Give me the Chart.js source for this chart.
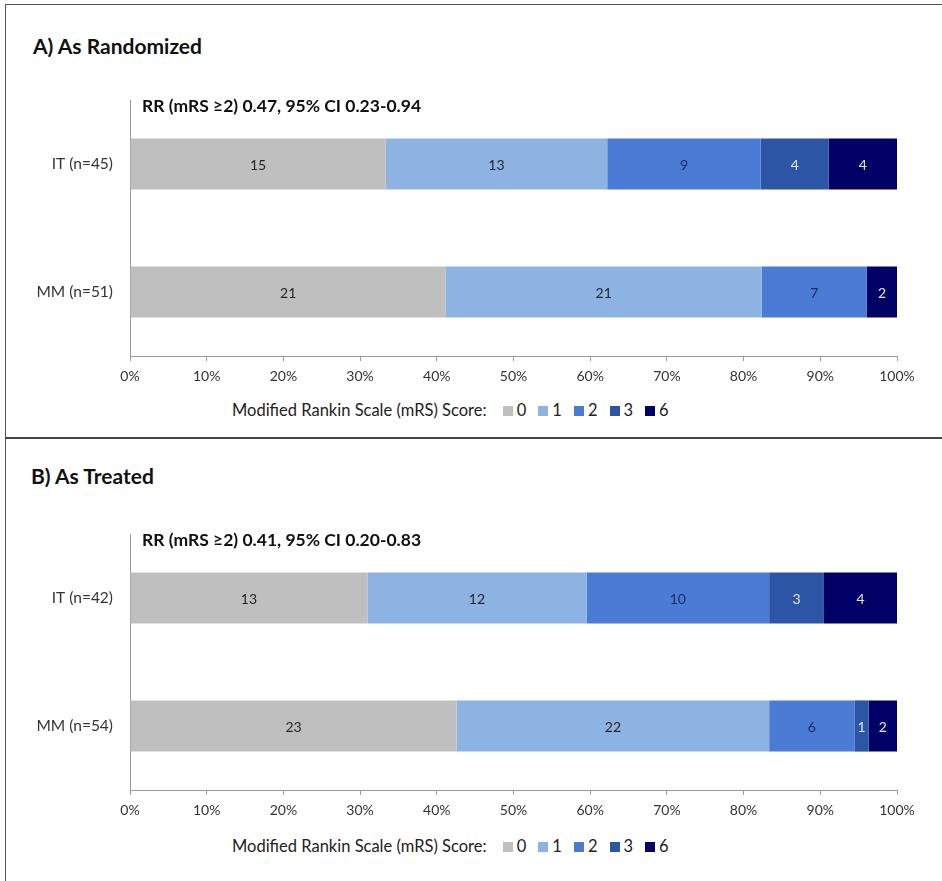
<!DOCTYPE html>
<html>
<head>
<meta charset="utf-8">
<script src="https://cdn.jsdelivr.net/npm/chart.js@4.4.1/dist/chart.umd.min.js"></script>
<style>
  body { margin: 0; background: #fff; font-family: Lato, 'Open Sans', sans-serif; }
  #page { position: relative; width: 942px; height: 881px; overflow: hidden; }
  .frameTop { position: absolute; left: 5px; top: 4px; width: 937px; height: 1px; background: #555; }
  .frameLeft { position: absolute; left: 5px; top: 4px; width: 1px; height: 877px; background: #555; }
  .divider { position: absolute; left: 5px; top: 437px; width: 937px; height: 2px; background: #444; }
  .panelTitle { position: absolute; font-weight: bold; font-size: 21px; color: #111; }
  canvas { position: absolute; left: 0; }
  .legend { position: absolute; left: 232px; font-size: 16.5px; color: #222; white-space: nowrap; }
  .legend span.box { display: inline-block; width: 10px; height: 10px; margin: 0 4px 0 12px; }
</style>
</head>
<body>
<div id="page">
  <div class="frameTop"></div>
  <div class="frameLeft"></div>
  <div class="divider"></div>
  <div class="panelTitle" style="left:33px; top:33px;">A) As Randomized</div>
  <div class="panelTitle" style="left:31px; top:463px;">B) As Treated</div>
  <canvas id="chartA" width="942" height="395" style="top:0px"></canvas>
  <canvas id="chartB" width="942" height="395" style="top:434px"></canvas>
  <div class="legend" id="legendA" style="top:400px"></div>
  <div class="legend" id="legendB" style="top:836px"></div>
</div>
<script>
// categories
const categoriesA = ['IT (n=45)', 'MM (n=51)']
const categoriesB = ['IT (n=42)', 'MM (n=54)']

// mRS score groups
const scores = ['0', '1', '2', '3', '6']
const scoreColors = ['#bfbfbf', '#8db3e2', '#4a7bd5', '#2c55a6', '#000066']
const scoreTextColors = ['#262626', '#262626', '#1b2b5e', '#e4e4e4', '#e4e4e4']

// patient counts per score (0, 1, 2, 3, 6)
const randomizedIT = [15, 13, 9, 4, 4]
const randomizedMM = [21, 21, 7, 0, 2]
const treatedIT = [13, 12, 10, 3, 4]
const treatedMM = [23, 22, 6, 1, 2]

const noteA = 'RR (mRS \u22652) 0.47, 95% CI 0.23-0.94'
const noteB = 'RR (mRS \u22652) 0.41, 95% CI 0.20-0.83'

const FONT = "Lato, 'Open Sans', sans-serif"

function buildDatasets (rows) {
  const totals = rows.map(r => r.reduce((a, b) => a + b, 0))
  return scores.map((s, i) => ({
    label: s,
    data: rows.map((r, j) => r[i] / totals[j] * 100),
    counts: rows.map(r => r[i]),
    backgroundColor: scoreColors[i],
    textColor: scoreTextColors[i],
    borderWidth: 0,
    barPercentage: 0.8,
    categoryPercentage: 0.5
  }))
}

const segmentLabels = {
  id: 'segmentLabels',
  afterDatasetsDraw (chart) {
    const ctx = chart.ctx
    ctx.save()
    ctx.font = '14px ' + FONT
    ctx.textAlign = 'center'
    ctx.textBaseline = 'middle'
    chart.data.datasets.forEach((ds, i) => {
      const meta = chart.getDatasetMeta(i)
      meta.data.forEach((el, j) => {
        if (!ds.counts[j]) return
        ctx.fillStyle = ds.textColor
        ctx.fillText(String(ds.counts[j]), (el.x + el.base) / 2, el.y + 1)
      })
    })
    ctx.restore()
  }
}

function makeNote (text) {
  return {
    id: 'rrNote',
    afterDraw (chart) {
      const ctx = chart.ctx
      ctx.save()
      ctx.font = 'bold 17.5px ' + FONT
      ctx.fillStyle = '#111'
      ctx.textBaseline = 'middle'
      ctx.fillText(text, chart.chartArea.left + 12, chart.chartArea.top + 6)
      ctx.restore()
    }
  }
}

function makeChart (id, categories, rows, note) {
  const ctx = document.querySelector(id)
  return new Chart(ctx, {
    type: 'bar',
    data: { labels: categories, datasets: buildDatasets(rows) },
    options: {
      responsive: false,
      animation: false,
      indexAxis: 'y',
      layout: { padding: { left: 0, right: 45, top: 100, bottom: 0 } },
      plugins: { legend: { display: false }, tooltip: { enabled: false } },
      scales: {
        x: {
          stacked: true,
          min: 0,
          max: 100,
          afterFit: scale => { scale.height = 39 },
          ticks: {
            stepSize: 10,
            padding: 7,
            color: '#333',
            font: { family: FONT, size: 14 },
            callback: v => v + '%'
          },
          grid: { drawOnChartArea: false, drawTicks: true, tickLength: 5, color: '#999' },
          border: { color: '#999' }
        },
        y: {
          stacked: true,
          afterFit: scale => { scale.width = 130 },
          ticks: { padding: 17, color: '#333', font: { family: FONT, size: 15.5 } },
          grid: { display: false, drawTicks: false },
          border: { color: '#999' }
        }
      }
    },
    plugins: [segmentLabels, makeNote(note)]
  })
}

function makeLegend (id) {
  const el = document.querySelector(id)
  let html = 'Modified Rankin Scale (mRS) Score: '
  scores.forEach((s, i) => {
    html += '<span class="box" style="background:' + scoreColors[i] + '"></span>' + s
  })
  el.innerHTML = html
}

makeChart('#chartA', categoriesA, [randomizedIT, randomizedMM], noteA)
makeChart('#chartB', categoriesB, [treatedIT, treatedMM], noteB)
makeLegend('#legendA')
makeLegend('#legendB')
</script>
</body>
</html>
